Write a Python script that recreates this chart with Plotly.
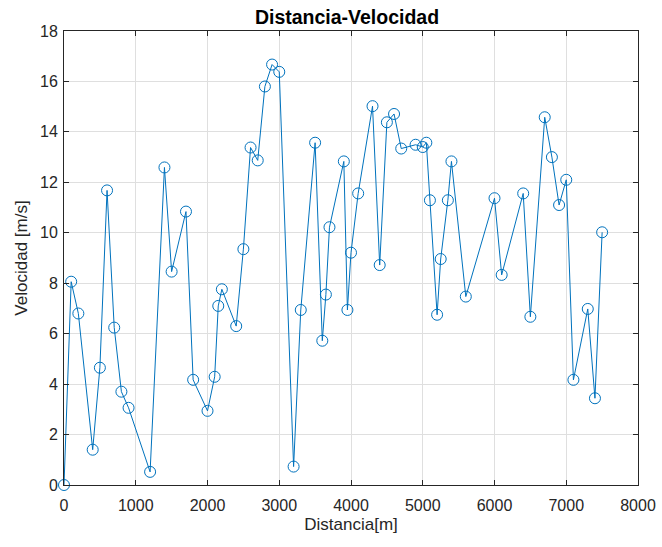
import plotly.graph_objects as go

distancia = [0, 100, 200, 400, 500, 600, 700, 800, 900, 1200,
             1400, 1500, 1700, 1800, 2000, 2100, 2150, 2200, 2400, 2500,
             2600, 2700, 2800, 2900, 3000, 3200, 3300, 3500, 3600, 3650,
             3700, 3900, 3950, 4000, 4100, 4300, 4400, 4500, 4600, 4700,
             4900, 5000, 5050, 5100, 5200, 5250, 5350, 5400, 5600, 6000,
             6100, 6400, 6500, 6700, 6800, 6900, 7000, 7100, 7300, 7400,
             7500]
velocidad = [0.0, 8.06, 6.8, 1.4, 4.65, 11.68, 6.24, 3.7, 3.06, 0.52,
             12.59, 8.46, 10.84, 4.17, 2.94, 4.29, 7.1, 7.76, 6.3, 9.35,
             13.38, 12.87, 15.8, 16.67, 16.38, 0.73, 6.94, 13.57, 5.72, 7.55,
             10.22, 12.83, 6.94, 9.21, 11.56, 15.02, 8.72, 14.38, 14.71, 13.34,
             13.49, 13.4, 13.57, 11.29, 6.75, 8.96, 11.29, 12.83, 7.47, 11.37,
             8.33, 11.56, 6.67, 14.58, 13.0, 11.1, 12.1, 4.17, 6.98, 3.44,
             10.02]

x_ticks = [0, 1000, 2000, 3000, 4000, 5000, 6000, 7000, 8000]
y_ticks = [0, 2, 4, 6, 8, 10, 12, 14, 16, 18]

blue = "#0072BD"
axcol = "#262626"
gridcol = "#dfdfdf"
font = "Liberation Sans, Arial, Helvetica, sans-serif"

fig = go.Figure()
fig.add_trace(go.Scatter(
    x=distancia, y=velocidad, mode="lines+markers",
    line=dict(color=blue, width=1),
    marker=dict(symbol="circle-open", size=11, color=blue, line=dict(width=1, color=blue)),
    showlegend=False, cliponaxis=False,
))

axis_common = dict(
    showline=True, linecolor=axcol, linewidth=1, mirror="ticks",
    ticks="inside", ticklen=5, tickcolor=axcol, tickwidth=1,
    showgrid=True, gridcolor=gridcol, gridwidth=1, zeroline=False,
    tickfont=dict(family=font, size=16, color=axcol),
    automargin=False,
)

fig.update_layout(
    width=662, height=547,
    margin=dict(l=64, r=24, t=31, b=62),
    paper_bgcolor="white", plot_bgcolor="white",
    title=dict(text="<b>Distancia-Velocidad</b>", x=347 / 662, xanchor="center",
               y=1 - 17 / 547, yanchor="middle",
               font=dict(family=font, size=19.5, color="black")),
    xaxis=dict(range=[0, 8000], tickvals=x_ticks,
               ticktext=[str(v) for v in x_ticks], ticklabelstandoff=6,
               title=dict(text="Distancia[m]", font=dict(family=font, size=17, color=axcol), standoff=4),
               **axis_common),
    yaxis=dict(range=[0, 18], tickvals=y_ticks,
               ticktext=[str(v) for v in y_ticks], ticklabelstandoff=2,
               title=dict(text="Velocidad [m/s]", font=dict(family=font, size=17, color=axcol), standoff=8),
               **axis_common),
)

fig.write_html("out.html")
